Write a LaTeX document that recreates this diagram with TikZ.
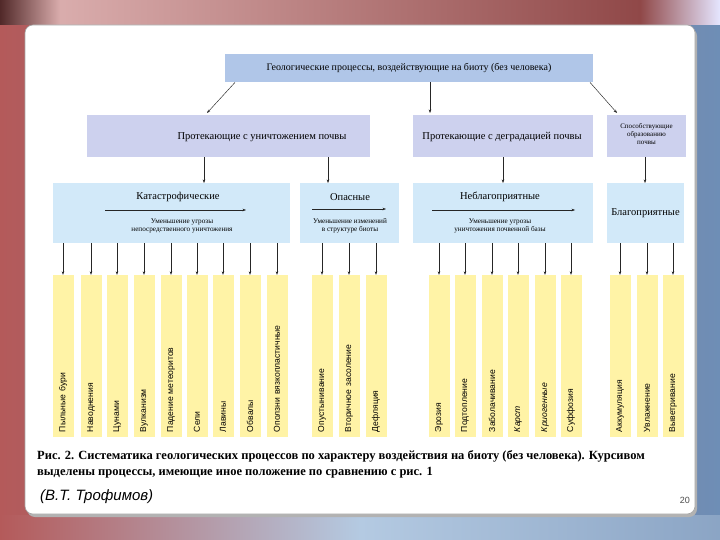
\documentclass[tikz,border=0pt]{standalone}
\usepackage{fontspec}
\setmainfont{Liberation Serif}
\setsansfont{Liberation Sans}
\usetikzlibrary{arrows.meta,calc}
\definecolor{topc}{HTML}{B0C6E8}
\definecolor{lav}{HTML}{CDD1EE}
\definecolor{lblue}{HTML}{D2E9F9}
\definecolor{ylw}{HTML}{FFF3A6}
\definecolor{bgred}{HTML}{B45A5A}
\definecolor{bgblue}{HTML}{6E8EB6}
\definecolor{bglight}{HTML}{B4CAE2}
\begin{document}
\begin{tikzpicture}[x=1pt,y=-1pt,
  box/.style={anchor=north west, inner sep=0pt, draw=none},
  arr/.style={-{Stealth[length=3.5pt,width=2.6pt]}, line width=0.45pt, draw=black!85},
  col/.style={rotate=90, fill=ylw, minimum height=21pt, minimum width=162pt, text width=152pt,
    inner xsep=5pt, inner ysep=0pt, align=left, font=\sffamily\fontsize{8.6}{9}\selectfont},
  ttl/.style={font=\fontsize{10.5}{12}\selectfont},
  sub/.style={font=\fontsize{7.2}{8.2}\selectfont, align=center},
  small/.style={font=\fontsize{7}{7.8}\selectfont, align=center}
]
\useasboundingbox (0,0) rectangle (720,540);
% background
\shade[left color=bgred, right color=bgblue] (0,0) rectangle (720,540);
\shade[left color=black!55!bgred, right color=bgred!50!white] (0,0) rectangle (60,25);
\shade[left color=bgred!50!white, right color=bgred!80!black] (60,0) rectangle (640,25);
\shade[left color=bgred!80!black, right color=white!90!blue] (640,0) rectangle (720,25);
\shade[left color=bgred, right color=bglight] (0,515) rectangle (360,540);
\shade[left color=bglight, right color=bgblue!80] (360,515) rectangle (720,540);
% panel
\fill[black!30, rounded corners=8pt] (27,28) rectangle (697,517);
\filldraw[draw=gray!70, fill=white, rounded corners=8pt, line width=0.6pt] (25,25) rectangle (695,514);

% top
\node[box, fill=topc, minimum width=368pt, minimum height=28pt] (top) at (225,54) {};
\node[font=\fontsize{10}{12}\selectfont] (topt) at (409,68) {Геологические процессы, воздействующие на биоту (без человека)};

% second row
\node[box, fill=lav, minimum width=283pt, minimum height=42pt] (b1) at (87,115) {};
\node[ttl] (b1t) at (262,137) {Протекающие с уничтожением почвы};
\node[box, fill=lav, minimum width=180pt, minimum height=42pt] (b2) at (413,115) {};
\node[ttl] (b2t) at (502,137) {Протекающие с деградацией почвы};
\node[box, fill=lav, minimum width=79pt, minimum height=42pt] (b3) at (607,115) {};
\node[small] (b3t) at (646.5,134) {Способствующие\\образованию\\почвы};

% top arrows
\draw[arr] ($(top.south west)+(10,0)$) -- ($(b1.north west)+(120,-2)$);
\draw[arr] ($(top.south west)+(205,0)$) -- ($(b2.north west)+(17,-2)$);
\draw[arr] ($(top.south west)+(365,0)$) -- ($(b3.north west)+(10,-2)$);

% third row
\node[box, fill=lblue, minimum width=237pt, minimum height=60pt] (kat) at (53,183) {};
\node[ttl] (katt) at (178,197) {Катастрофические};
\coordinate (katA) at (105,210);
\coordinate (katB) at (246,210);
\draw[arr] (katA) -- (katB);
\node[sub] (kats) at (182,226) {Уменьшение угрозы\\непосредственного уничтожения};

\node[box, fill=lblue, minimum width=99pt, minimum height=60pt] (op) at (300,183) {};
\node[ttl] (opt) at (350,197) {Опасные};
\coordinate (opA) at (312,209);
\coordinate (opB) at (386,209);
\draw[arr] (opA) -- (opB);
\node[sub] (ops) at (350,226) {Уменьшение изменений\\в структуре биоты};

\node[box, fill=lblue, minimum width=180pt, minimum height=60pt] (neb) at (413,183) {};
\node[ttl] (nebt) at (500,197) {Неблагоприятные};
\coordinate (nebA) at (432,210);
\coordinate (nebB) at (575,210);
\draw[arr] (nebA) -- (nebB);
\node[sub] (nebs) at (500,226) {Уменьшение угрозы\\уничтожения почвенной базы};

\node[box, fill=lblue, minimum width=77pt, minimum height=60pt] (bla) at (607,183) {};
\node[ttl] (blat) at (645.5,213) {Благоприятные};

% row2 -> row3 arrows
\draw[arr] ($(b1.south west)+(117,0)$) -- ($(kat.north west)+(151,0)$);
\draw[arr] ($(b1.south west)+(241,0)$) -- ($(op.north west)+(28,0)$);
\draw[arr] ($(b2.south west)+(90,0)$) -- ($(neb.north west)+(90,0)$);
\draw[arr] ($(b3.south west)+(38,0)$) -- ($(bla.north west)+(38,0)$);

% columns
\node[col] (c1) at (63,356) {Пыльные бури};
\node[col] (c2) at (91,356) {Наводнения};
\node[col] (c3) at (117,356) {Цунами};
\node[col] (c4) at (144,356) {Вулканизм};
\node[col] (c5) at (171,356) {Падение метеоритов};
\node[col] (c6) at (197,356) {Сели};
\node[col] (c7) at (223,356) {Лавины};
\node[col] (c8) at (250,356) {Обвалы};
\node[col] (c9) at (277,356) {Оползни вязкопластичные};
\node[col] (c10) at (322,356) {Опустынивание};
\node[col] (c11) at (349,356) {Вторичное засоление};
\node[col] (c12) at (376,356) {Дефляция};
\node[col] (c13) at (439,356) {Эрозия};
\node[col] (c14) at (465,356) {Подтопление};
\node[col] (c15) at (492,356) {Заболачивание};
\node[col] (c16) at (518,356) {\itshape Карст};
\node[col] (c17) at (545,356) {\itshape Криогенные};
\node[col] (c18) at (571,356) {Суффозия};
\node[col] (c19) at (620,356) {Аккумуляция};
\node[col] (c20) at (647,356) {Увлажнение};
\node[col] (c21) at (673,356) {Выветривание};

\foreach \i in {1,...,9} {\draw[arr] (kat.south -| c\i.east) -- (c\i.east);}
\foreach \i in {10,11,12} {\draw[arr] (op.south -| c\i.east) -- (c\i.east);}
\foreach \i in {13,...,18} {\draw[arr] (neb.south -| c\i.east) -- (c\i.east);}
\foreach \i in {19,20,21} {\draw[arr] (bla.south -| c\i.east) -- (c\i.east);}

% caption
\node[anchor=north west, font=\bfseries\fontsize{12.5}{16}\selectfont, align=left, inner sep=0pt] (cap) at (37,450)
 {Рис. 2. Систематика геологических процессов по характеру воздействия на биоту (без человека). Курсивом\\
  выделены процессы, имеющие иное положение по сравнению с рис. 1};

\node[anchor=west, font=\sffamily\itshape\fontsize{15}{17}\selectfont, inner sep=0pt] (auth) at (40,497) {(В.Т. Трофимов)};
\node[anchor=east, font=\sffamily\fontsize{9}{10}\selectfont, inner sep=0pt, text=black!70] (pg) at (690,500) {20};
\end{tikzpicture}
\end{document}
